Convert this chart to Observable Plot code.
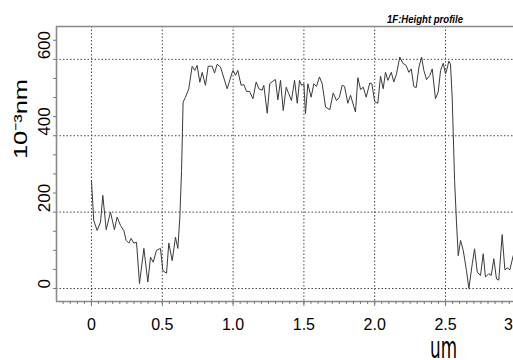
<!DOCTYPE html>
<html>
<head>
<meta charset="utf-8">
<script src="https://cdn.jsdelivr.net/npm/d3@7"></script>
<script src="https://cdn.jsdelivr.net/npm/@observablehq/plot@0.6"></script>
<style>
  html, body { margin: 0; padding: 0; background: #fff; overflow: hidden; }
</style>
</head>
<body>
<div id="chart"></div>
<script>
// ---- data (x in um, height in 10^-3 nm) ----
const positions = [
  0, 0.016, 0.040, 0.064, 0.080, 0.104, 0.134, 0.162, 0.181, 0.205, 0.228, 0.245, 0.264, 0.280, 0.299, 0.318,
  0.339, 0.370, 0.398, 0.417, 0.436, 0.459, 0.487, 0.504, 0.530, 0.546, 0.570, 0.593, 0.610, 0.624, 0.636, 0.647,
  0.664, 0.687, 0.711, 0.730, 0.746, 0.765, 0.782, 0.805, 0.824, 0.852, 0.869, 0.887, 0.911, 0.958, 0.994,
  1.000, 1.017, 1.033, 1.057, 1.076, 1.095, 1.116, 1.140, 1.163, 1.182, 1.205, 1.217, 1.241, 1.259, 1.288, 1.299,
  1.316, 1.335, 1.354, 1.375, 1.393, 1.412, 1.434, 1.453, 1.469, 1.483, 1.500, 1.511, 1.528, 1.551, 1.570, 1.589,
  1.610, 1.629, 1.653, 1.683, 1.707, 1.730, 1.751, 1.770, 1.787, 1.810, 1.829, 1.864, 1.881, 1.900, 1.919, 1.940,
  1.965, 1.980, 2.000, 2.022, 2.041, 2.060, 2.076, 2.093, 2.117, 2.135, 2.154, 2.177, 2.198, 2.222, 2.241, 2.258,
  2.276, 2.293, 2.312, 2.331, 2.347, 2.366, 2.389, 2.406, 2.429, 2.448, 2.465, 2.484, 2.500, 2.512, 2.523, 2.535,
  2.547, 2.564, 2.578, 2.590, 2.606, 2.625, 2.648, 2.665, 2.689, 2.705, 2.724, 2.747, 2.766, 2.782, 2.806, 2.823,
  2.841, 2.860, 2.876, 2.900, 2.919, 2.936, 2.954, 2.978
];
const heights = [
  283, 178, 152, 174, 244, 154, 200, 154, 187, 165, 152, 126, 119, 131, 119, 121,
  13, 105, 17, 82, 69, 100, 105, 47, 40, 119, 73, 134, 105, 187, 309, 488,
  501, 523, 582, 571, 584, 540, 566, 532, 582, 582, 564, 587, 580, 523, 566,
  571, 558, 571, 532, 534, 516, 516, 497, 541, 523, 519, 532, 459, 536, 545, 547,
  494, 545, 466, 527, 510, 492, 545, 485, 545, 532, 536, 458, 536, 501, 536, 529,
  554, 536, 475, 468, 512, 492, 501, 532, 529, 485, 506, 462, 552, 521, 527, 501,
  538, 536, 489, 485, 556, 523, 566, 545, 566, 541, 562, 606, 590, 584, 566, 575,
  529, 526, 579, 606, 571, 547, 558, 575, 497, 514, 571, 590, 562, 577, 595, 588,
  501, 283, 169, 86, 126, 100, 47, 0, 65, 104, 43, 34, 91, 30, 39, 34,
  78, 25, 22, 141, 49, 54, 49, 86
];

const xTicks = [0, 0.5, 1.0, 1.5, 2.0, 2.5];
const xTickLabels = ["0", "0.5", "1.0", "1.5", "2.0", "2.5"];
const xLastTick = [3];
const yTicks = [0, 200, 400, 600];
const xDomain = [-0.247, 2.98];
const yDomain = [-34, 686];
const minorX = d3.range(-0.2, 3.0, 0.05);
const minorY = d3.range(0, 700, 50);
const titleText = "1F:Height profile";
const xLabel = "um";
const xLabelAt = 2.5;
const yLabel = "10\u207B\u00B3nm";

const data = positions.map((x, i) => ({x, y: heights[i]}));

const chart = Plot.plot({
  width: 513,
  height: 360,
  marginLeft: 56,
  marginRight: 0,
  marginTop: 26,
  marginBottom: 59,
  style: {fontFamily: "Liberation Sans, Arial, sans-serif", background: "#fff", color: "#000"},
  x: {domain: xDomain, label: null},
  y: {domain: yDomain, label: null},
  marks: [
    Plot.gridX(xTicks, {stroke: "#333", strokeOpacity: 0.9, strokeWidth: 1, strokeDasharray: "1.5,2"}),
    Plot.gridY(yTicks, {stroke: "#333", strokeOpacity: 0.9, strokeWidth: 1, strokeDasharray: "1.5,2"}),
    Plot.ruleX(xDomain.slice(0, 1), {stroke: "#8a8a8a", strokeWidth: 1.6}),
    Plot.ruleY(yDomain, {stroke: "#8a8a8a", strokeWidth: 1.4}),
    Plot.axisX(minorX, {tickSize: 3, tickFormat: () => "", stroke: "#777", label: null}),
    Plot.axisX(xTicks, {tickSize: 5, tickPadding: 12, tickFormat: (d, i) => xTickLabels[i], fontSize: 16, stroke: "#777", label: null}),
    Plot.axisX(xLastTick, {tickSize: 0, tickPadding: 17, tickFormat: d => String(d), fontSize: 16, dx: -8, label: null}),
    Plot.axisY(minorY, {tickSize: 3, tickFormat: () => "", stroke: "#777", label: null}),
    Plot.text(yTicks, {y: d => d, text: d => String(d), frameAnchor: "left", dx: -12, rotate: -90, fontSize: 17}),
    Plot.line(data, {x: "x", y: "y", stroke: "#3a3a3a", strokeWidth: 1}),
    Plot.text([titleText], {frameAnchor: "top", dx: 140, dy: -11, fontSize: 10, fontWeight: "bold", fontStyle: "italic"}),
    Plot.text([xLabel], {x: () => xLabelAt, frameAnchor: "bottom", dx: -2, dy: 56, fontSize: 30, fontFamily: "DejaVu Sans"}),
    Plot.text([yLabel], {frameAnchor: "left", dx: -36, dy: -5, rotate: -90, fontSize: 19})
  ]
});

const svg = d3.select(chart);
svg.selectAll("text").each(function() {
  const t = this.textContent;
  const sel = d3.select(this);
  if (t === xLabel) sel.attr("textLength", 27).attr("lengthAdjust", "spacingAndGlyphs");
  if (t === yLabel) sel.attr("textLength", 80).attr("lengthAdjust", "spacingAndGlyphs");
  if (t === titleText) sel.attr("textLength", 76).attr("lengthAdjust", "spacingAndGlyphs");
});
document.getElementById("chart").appendChild(chart);
</script>
</body>
</html>
